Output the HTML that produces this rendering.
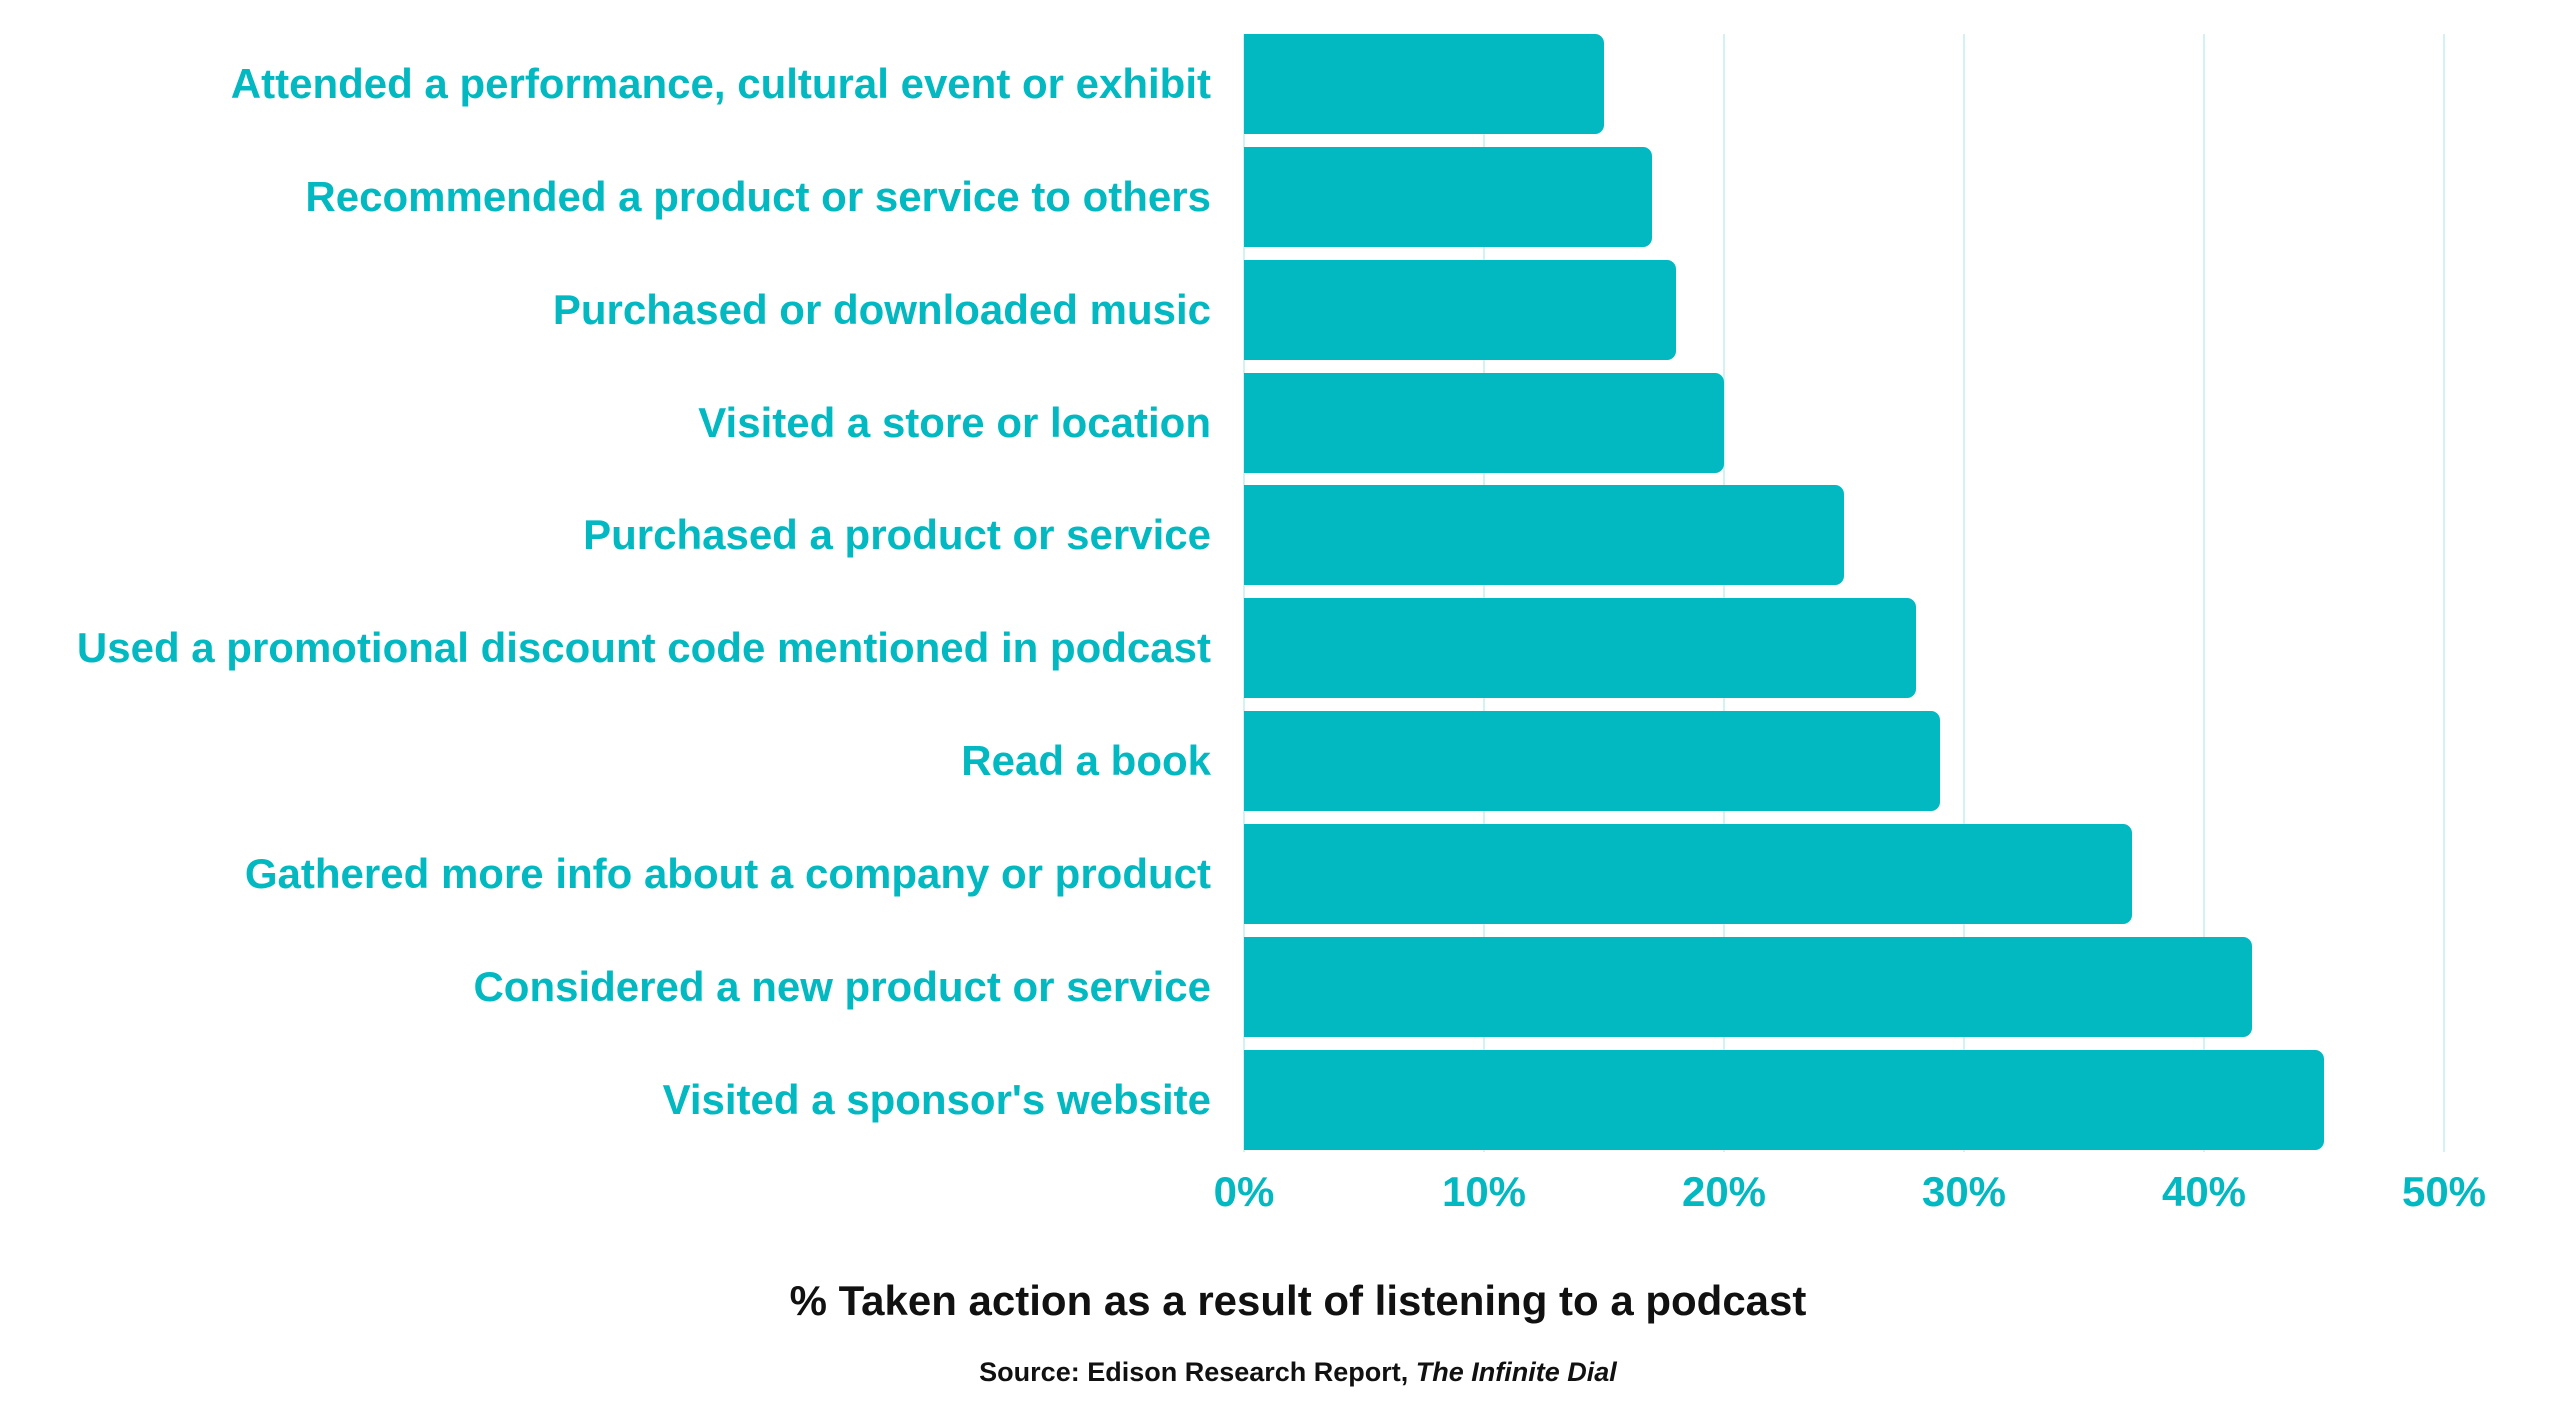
<!DOCTYPE html>
<html><head><style>
body{margin:0;width:2560px;height:1411px;background:#fff;overflow:hidden;position:relative;font-family:"Liberation Sans",sans-serif}
.g{position:absolute;top:34px;height:1118px;width:2px;background:#d4f1f3}
.b{position:absolute;left:1244px;height:100px;background:#02b8c1;border-radius:0 9px 9px 0}
.l{position:absolute;right:1349px;font-weight:bold;color:#02b8c1;font-size:42px;white-space:nowrap;line-height:100px}
.t{position:absolute;top:1168px;font-weight:bold;color:#02b8c1;font-size:42px;width:200px;margin-left:-100px;text-align:center}
</style></head><body>
<div class="g" style="left:1243px"></div><div class="g" style="left:1483px"></div><div class="g" style="left:1723px"></div><div class="g" style="left:1963px"></div><div class="g" style="left:2203px"></div><div class="g" style="left:2443px"></div>
<div class="b" style="top:34px;width:360px"></div><div class="l" style="top:34px">Attended a performance, cultural event or exhibit</div>
<div class="b" style="top:147px;width:408px"></div><div class="l" style="top:147px">Recommended a product or service to others</div>
<div class="b" style="top:260px;width:432px"></div><div class="l" style="top:260px">Purchased or downloaded music</div>
<div class="b" style="top:373px;width:480px"></div><div class="l" style="top:373px">Visited a store or location</div>
<div class="b" style="top:485px;width:600px"></div><div class="l" style="top:485px">Purchased a product or service</div>
<div class="b" style="top:598px;width:672px"></div><div class="l" style="top:598px">Used a promotional discount code mentioned in podcast</div>
<div class="b" style="top:711px;width:696px"></div><div class="l" style="top:711px">Read a book</div>
<div class="b" style="top:824px;width:888px"></div><div class="l" style="top:824px">Gathered more info about a company or product</div>
<div class="b" style="top:937px;width:1008px"></div><div class="l" style="top:937px">Considered a new product or service</div>
<div class="b" style="top:1050px;width:1080px"></div><div class="l" style="top:1050px">Visited a sponsor's website</div>
<div class="t" style="left:1244px">0%</div><div class="t" style="left:1484px">10%</div><div class="t" style="left:1724px">20%</div><div class="t" style="left:1964px">30%</div><div class="t" style="left:2204px">40%</div><div class="t" style="left:2444px">50%</div>
<div style="position:absolute;left:0;width:2596px;text-align:center;top:1277px;font-size:42px;font-weight:bold;color:#111">% Taken action as a result of listening to a podcast</div>
<div style="position:absolute;left:0;width:2596px;text-align:center;top:1357px;font-size:27px;font-weight:bold;color:#111">Source: Edison Research Report, <i>The Infinite Dial</i></div>
</body></html>
